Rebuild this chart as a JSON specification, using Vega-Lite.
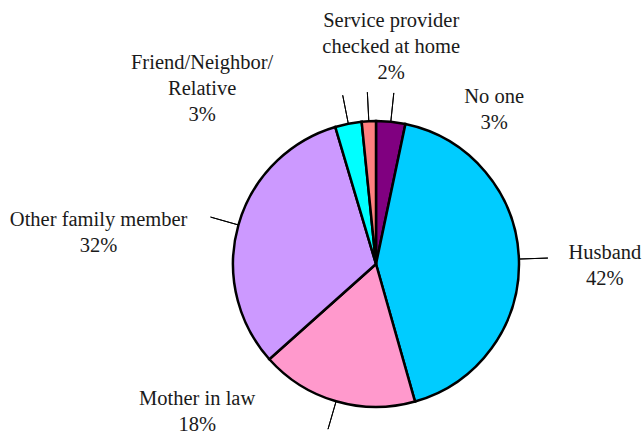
{
  "$schema": "https://vega.github.io/schema/vega-lite/v6.json",
  "width": 536,
  "height": 334,
  "autosize": {"type": "none"},
  "padding": {"left": 108, "top": 97, "right": 0, "bottom": 0},
  "background": "white",
  "config": {"view": {"stroke": null}},
  "data": {
    "values": [
      {"category": "No one", "value": 3.3, "rank": 1, "label": ["No one", "3%"]},
      {"category": "Husband", "value": 42.3, "rank": 2, "label": ["Husband", "42%"]},
      {"category": "Mother in law", "value": 17.8, "rank": 3, "label": ["Mother in law", "18%"]},
      {"category": "Other family member", "value": 32.0, "rank": 4, "label": ["Other family member", "32%"]},
      {"category": "Friend/Neighbor/Relative", "value": 3.0, "rank": 5, "label": ["Friend/Neighbor/", "Relative", "3%"]},
      {"category": "Service provider checked at home", "value": 1.6, "rank": 6, "label": ["Service provider", "checked at home", "2%"]}
    ]
  },
  "encoding": {
    "theta": {"field": "value", "type": "quantitative", "stack": true},
    "order": {"field": "rank", "type": "quantitative"}
  },
  "layer": [
    {
      "mark": {"type": "arc", "outerRadius": 143, "stroke": "black", "strokeWidth": 2.5},
      "encoding": {
        "color": {
          "field": "category",
          "type": "nominal",
          "scale": {
            "domain": ["No one", "Husband", "Mother in law", "Other family member", "Friend/Neighbor/Relative", "Service provider checked at home"],
            "range": ["#800080", "#00CCFF", "#FF99CC", "#CC99FF", "#00FFFF", "#FF8080"]
          },
          "legend": null
        }
      }
    },
    {
      "mark": {"type": "arc", "innerRadius": 143, "outerRadius": 172, "padAngle": 3, "stroke": "black", "strokeWidth": 1, "fill": "transparent"}
    },
    {
      "mark": {"type": "text", "radius": 175, "dx": 100, "dy": 13, "font": "'Liberation Serif', 'DejaVu Serif', serif", "fontSize": 20.5, "lineHeight": 26, "align": "center", "baseline": "alphabetic", "color": "#1a1a1a"},
      "encoding": {"text": {"condition": {"test": "datum.category === 'No one'", "field": "label"}, "value": ""}}
    },
    {
      "mark": {"type": "text", "radius": 175, "dx": 54, "dy": 1, "font": "'Liberation Serif', 'DejaVu Serif', serif", "fontSize": 20.5, "lineHeight": 26, "align": "center", "baseline": "alphabetic", "color": "#1a1a1a"},
      "encoding": {"text": {"condition": {"test": "datum.category === 'Husband'", "field": "label"}, "value": ""}}
    },
    {
      "mark": {"type": "text", "radius": 175, "dx": -130, "dy": -27, "font": "'Liberation Serif', 'DejaVu Serif', serif", "fontSize": 20.5, "lineHeight": 26, "align": "center", "baseline": "alphabetic", "color": "#1a1a1a"},
      "encoding": {"text": {"condition": {"test": "datum.category === 'Mother in law'", "field": "label"}, "value": ""}}
    },
    {
      "mark": {"type": "text", "radius": 175, "dx": -109, "dy": 10, "font": "'Liberation Serif', 'DejaVu Serif', serif", "fontSize": 20.5, "lineHeight": 26, "align": "center", "baseline": "alphabetic", "color": "#1a1a1a"},
      "encoding": {"text": {"condition": {"test": "datum.category === 'Other family member'", "field": "label"}, "value": ""}}
    },
    {
      "mark": {"type": "text", "radius": 175, "dx": -140, "dy": -23, "font": "'Liberation Serif', 'DejaVu Serif', serif", "fontSize": 20.5, "lineHeight": 26, "align": "center", "baseline": "alphabetic", "color": "#1a1a1a"},
      "encoding": {"text": {"condition": {"test": "datum.category === 'Friend/Neighbor/Relative'", "field": "label"}, "value": ""}}
    },
    {
      "mark": {"type": "text", "radius": 175, "dx": 24, "dy": -62.5, "font": "'Liberation Serif', 'DejaVu Serif', serif", "fontSize": 20.5, "lineHeight": 26, "align": "center", "baseline": "alphabetic", "color": "#1a1a1a"},
      "encoding": {"text": {"condition": {"test": "datum.category === 'Service provider checked at home'", "field": "label"}, "value": ""}}
    }
  ]
}
